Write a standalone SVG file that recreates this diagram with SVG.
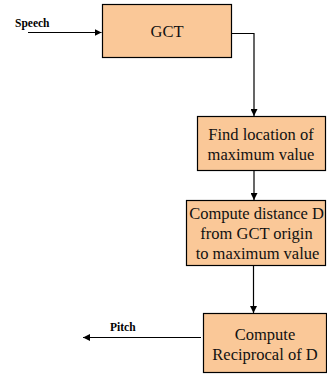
<svg xmlns="http://www.w3.org/2000/svg" width="327" height="374" viewBox="0 0 327 374">
  <style>
    .box { fill: #fac898; stroke: #000; stroke-width: 1.2; }
    text { font-family: 'Liberation Serif', 'Times New Roman', Times, serif; }
    .lbl { font-size: 16.5px; fill: #111; text-anchor: middle; }
    .io { font-size: 11.5px; font-weight: bold; fill: #000; }
    .wire { fill: none; stroke: #000; stroke-width: 1.2; }
  </style>
  <defs>
    <marker id="arrow" viewBox="0 0 10 10" refX="10" refY="5" markerWidth="7" markerHeight="7" markerUnits="userSpaceOnUse" orient="auto">
      <path d="M0,0 L10,5 L0,10 Z" fill="#000"/>
    </marker>
  </defs>
  <rect width="327" height="374" fill="#fff"/>

  <g id="connectors">
    <path class="wire" d="M28,32.5 H101.5" marker-end="url(#arrow)"/>
    <path class="wire" d="M231.5,33.5 H254 V116" marker-end="url(#arrow)"/>
    <path class="wire" d="M254,171 V200" marker-end="url(#arrow)"/>
    <path class="wire" d="M253.5,266 V313" marker-end="url(#arrow)"/>
    <path class="wire" d="M201,337.5 H83" marker-end="url(#arrow)"/>
    <text class="io" x="15" y="27">Speech</text>
    <text class="io" x="110" y="330.5">Pitch</text>
  </g>

  <g id="gct">
    <rect class="box" x="102.5" y="4.5" width="129" height="53"/>
    <text class="lbl" x="167" y="37">GCT</text>
  </g>

  <g id="find-max">
    <rect class="box" x="197.5" y="116.5" width="128" height="54"/>
    <text class="lbl" x="261" y="140">Find location of</text>
    <text class="lbl" x="261" y="160">maximum value</text>
  </g>

  <g id="distance">
    <rect class="box" x="186.5" y="200.5" width="139" height="65"/>
    <text class="lbl" x="256.5" y="218.5">Compute distance D</text>
    <text class="lbl" x="256.5" y="238.5">from GCT origin</text>
    <text class="lbl" x="257.5" y="259">to maximum value</text>
  </g>

  <g id="reciprocal">
    <rect class="box" x="203.5" y="313.5" width="123" height="59"/>
    <text class="lbl" x="265" y="340">Compute</text>
    <text class="lbl" x="265" y="360">Reciprocal of D</text>
  </g>
</svg>
